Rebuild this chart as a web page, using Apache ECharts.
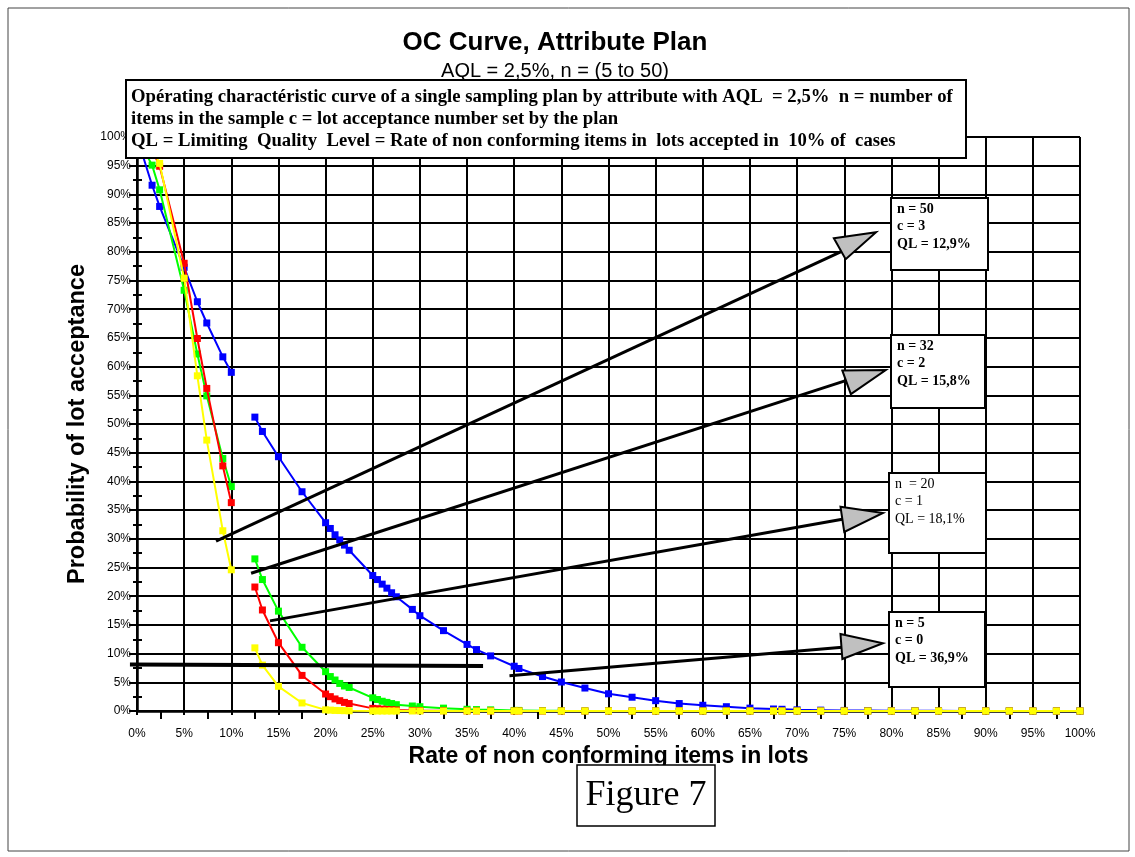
<!DOCTYPE html>
<html><head><meta charset="utf-8">
<script src="https://cdn.jsdelivr.net/npm/echarts/dist/echarts.min.js"></script>
<style>html,body{margin:0;padding:0;background:#fff}#c{width:1135px;height:857px}</style>
</head><body><div id="c"></div>
<script>
// ---- data (percent) ----
const xLow = [0, 1.6, 2.4, 5, 6.4, 7.4, 9.1, 10];
const blueLow   = [100, 91.6, 87.9, 77.3, 71.3, 67.6, 61.7, 59.0];
const greenLow  = [100, 95.1, 90.8, 73.3, 62.2, 54.9, 44.0, 39.1];
const redLow    = [100, 97.8, 94.9, 78.0, 64.9, 56.2, 42.7, 36.3];
const yellowLow = [100, 98.0, 95.4, 75.4, 58.4, 47.2, 31.4, 24.6];

const xHigh = [12.5, 13.3, 15, 17.5, 20, 20.5, 21, 21.5, 22, 22.5, 25, 25.5, 26, 26.5, 27, 27.5, 29.2, 30,
  32.5, 35, 36, 37.5, 40, 40.5, 43, 45, 47.5, 50, 52.5, 55, 57.5, 60, 62.5, 65, 67.5, 68.4, 70,
  72.5, 75, 77.5, 80, 82.5, 85, 87.5, 90, 92.5, 95, 97.5, 100];
const blueHigh = [51.2, 48.7, 44.3, 38.2, 32.8, 31.8, 30.7, 29.8, 28.9, 28.0, 23.6, 22.9, 22.1, 21.4, 20.6, 19.9, 17.7, 16.6,
  14.0, 11.6, 10.7, 9.6, 7.8, 7.4, 6.0, 5.05, 4.0, 3.0, 2.4, 1.8, 1.3, 1.0, 0.75, 0.5, 0.35, 0.3, 0.2,
  0.15, 0.1, 0.08, 0.05, 0.04, 0.03, 0.02, 0.01, 0.01, 0, 0, 0];
const greenHigh = [26.5, 22.9, 17.4, 11.1, 6.85, 6.0, 5.4, 4.8, 4.36, 4.1, 2.3, 2.0, 1.7, 1.5, 1.3, 1.1, 0.87, 0.75,
  0.5, 0.3, 0.25, 0.2, 0.1, 0.1, 0.05, 0.03, 0.02, 0.01, 0, 0, 0, 0, 0, 0, 0, 0, 0,
  0, 0, 0, 0, 0, 0, 0, 0, 0, 0, 0, 0];
const redHigh = [21.6, 17.6, 11.9, 6.2, 2.96, 2.5, 2.1, 1.8, 1.5, 1.3, 0.46, 0.4, 0.33, 0.27, 0.22, 0.18, 0.1, 0.08,
  0.04, 0.02, 0.01, 0.01, 0, 0, 0, 0, 0, 0, 0, 0, 0, 0, 0, 0, 0, 0, 0,
  0, 0, 0, 0, 0, 0, 0, 0, 0, 0, 0, 0];
const yellowHigh = [11.0, 8.0, 4.3, 1.4, 0.2, 0.15, 0.1, 0.08, 0.06, 0.04, 0.01, 0, 0, 0, 0, 0, 0, 0,
  0, 0, 0, 0, 0, 0, 0, 0, 0, 0, 0, 0, 0, 0, 0, 0, 0, 0, 0,
  0, 0, 0, 0, 0, 0, 0, 0, 0, 0, 0, 0];

const titleText = 'OC Curve, Attribute Plan';
const subText = 'AQL = 2,5%, n = (5 to 50)';
const xName = 'Rate of non conforming items in lots';
const yName = 'Probability of lot acceptance';
const noteLines = [
  'Opérating charactéristic curve of a single sampling plan by attribute with AQL  = 2,5%  n = number of',
  'items in the sample c = lot acceptance number set by the plan',
  'QL = Limiting  Quality  Level = Rate of non conforming items in  lots accepted in  10% of  cases'
];
const planLabels = [
  ['n = 50', 'c = 3', 'QL = 12,9%'],
  ['n = 32', 'c = 2', 'QL = 15,8%'],
  ['n  = 20', 'c = 1', 'QL = 18,1%'],
  ['n = 5', 'c = 0', 'QL = 36,9%']
];

// ---- chart ----
const SANS = 'Liberation Sans, Arial, sans-serif';
const SERIF = 'Liberation Serif, Times New Roman, serif';
const pairs = (xs, ys) => xs.map((x, i) => [x, ys[i]]);
function seg(name, color, xs, ys, z) {
  return {
    name, type: 'line', data: pairs(xs, ys), z,
    symbol: 'rect', symbolSize: 7, showSymbol: true,
    lineStyle: { color, width: 2 }, itemStyle: { color },
    animation: false, silent: true
  };
}
const chart = echarts.init(document.getElementById('c'));
chart.setOption({
  animation: false,
  backgroundColor: '#fff',
  title: [
    { text: titleText, left: 555, top: 30, textAlign: 'center', padding: 0,
      textStyle: { fontFamily: SANS, fontSize: 26, fontWeight: 'bold', color: '#000' } },
    { text: subText, left: 555, top: 61, textAlign: 'center', padding: 0,
      textStyle: { fontFamily: SANS, fontSize: 20, fontWeight: 'normal', color: '#000' } }
  ],
  grid: { left: 137, right: 55, top: 137, bottom: 146 },
  xAxis: [{
    type: 'value', min: 0, max: 100, interval: 5,
    name: xName, nameLocation: 'middle', nameGap: 33,
    nameTextStyle: { fontFamily: SANS, fontSize: 23, fontWeight: 'bold', color: '#000' },
    axisLine: { lineStyle: { color: '#000', width: 2.5 } },
    axisTick: { show: true, inside: false, length: 4, lineStyle: { color: '#000', width: 2 } },
    minorTick: { show: true, splitNumber: 2, length: 4, lineStyle: { color: '#000', width: 2 } },
    axisLabel: { formatter: '{value}%', fontFamily: SANS, fontSize: 12, color: '#000', margin: 17 },
    splitLine: { show: true, lineStyle: { color: '#000', width: 2 } }
  }, {
    type: 'value', min: 0, max: 100, interval: 5, position: 'bottom',
    axisLine: { show: false },
    axisTick: { show: false },
    minorTick: { show: true, splitNumber: 2, length: 8, lineStyle: { color: '#000', width: 2 } },
    axisLabel: { show: false }, splitLine: { show: false }
  }],
  yAxis: [{
    type: 'value', min: 0, max: 100, interval: 5,
    name: yName, nameLocation: 'middle', nameGap: 44,
    nameTextStyle: { fontFamily: SANS, fontSize: 23.5, fontWeight: 'bold', color: '#000' },
    axisLine: { show: true, lineStyle: { color: '#000', width: 2.5 } },
    axisTick: { show: true, inside: false, length: 8, lineStyle: { color: '#000', width: 2 } },
    minorTick: { show: true, splitNumber: 2, length: 4, lineStyle: { color: '#000', width: 2 } },
    axisLabel: { formatter: '{value}%', fontFamily: SANS, fontSize: 12, color: '#000', margin: 6 },
    splitLine: { show: true, lineStyle: { color: '#000', width: 2 } }
  }, {
    type: 'value', min: 0, max: 100, interval: 5, position: 'left',
    axisLine: { show: false },
    axisTick: { show: false, inside: true },
    minorTick: { show: true, splitNumber: 2, length: 5, lineStyle: { color: '#000', width: 2 } },
    axisLabel: { show: false }, splitLine: { show: false }
  }],
  series: [
    seg('n=50 c=3', '#0000FF', xLow, blueLow, 2),
    seg('n=50 c=3 ', '#0000FF', xHigh, blueHigh, 2),
    seg('n=20 c=1', '#00FF00', xLow, greenLow, 3),
    seg('n=20 c=1 ', '#00FF00', xHigh, greenHigh, 3),
    seg('n=32 c=2', '#FF0000', xLow, redLow, 4),
    seg('n=32 c=2 ', '#FF0000', xHigh, redHigh, 4),
    seg('n=5 c=0', '#FFFF00', xLow, yellowLow, 5),
    seg('n=5 c=0 ', '#FFFF00', xHigh, yellowHigh, 5)
  ]
});

// ---- annotations (in data coordinates, converted to pixels) ----
const toPx = p => chart.convertToPixel({ gridIndex: 0 }, p);
const arrows = [
  { tail: [8.38, 29.6], head: [74.9, 80.2], tri: [[73.9, 82.35], [78.37, 83.4], [75.15, 78.7]] },
  { tail: [12.1, 24.0], head: [75.4, 57.7], tri: [[74.8, 59.3], [79.4, 59.4], [75.7, 55.2]] },
  { tail: [14.1, 15.7], head: [74.8, 33.4], tri: [[74.6, 35.6], [79.1, 34.5], [75.0, 31.2]] },
  { tail: [39.5, 6.15], head: [74.8, 11.1], tri: [[74.6, 13.4], [79.1, 11.8], [74.8, 9.06]] }
];
const limitLine = [[-0.75, 8.1], [36.7, 7.85]];

const g = [];
g.push({ type: 'rect', shape: { x: 8, y: 8, width: 1121, height: 843 }, style: { fill: 'none', stroke: '#444', lineWidth: 1 }, z: 1 });
const l0 = toPx(limitLine[0]), l1 = toPx(limitLine[1]);
g.push({ type: 'line', shape: { x1: l0[0], y1: l0[1], x2: l1[0], y2: l1[1] }, style: { stroke: '#000', lineWidth: 4 }, z: 50 });
arrows.forEach(a => {
  const t = toPx(a.tail), h = toPx(a.head);
  g.push({ type: 'line', shape: { x1: t[0], y1: t[1], x2: h[0], y2: h[1] }, style: { stroke: '#000', lineWidth: 3 }, z: 50 });
  g.push({ type: 'polygon', shape: { points: a.tri.map(toPx) }, style: { fill: '#C0C0C0', stroke: '#000', lineWidth: 2 }, z: 51 });
});
// main note box
g.push({ type: 'rect', shape: { x: 126, y: 80, width: 840, height: 78 }, style: { fill: '#fff', stroke: '#000', lineWidth: 2 }, z: 60 });
noteLines.forEach((s, i) => {
  g.push({ type: 'text', x: 131, y: 97 + i * 22, style: { text: s, fill: '#000', font: 'bold 18.7px ' + SERIF, textVerticalAlign: 'middle', textAlign: 'left' }, z: 61 });
});
// plan boxes
const boxes = [
  { x: 891, y: 198, w: 97, h: 72, bold: true },
  { x: 891, y: 335, w: 94, h: 73, bold: true },
  { x: 889, y: 473, w: 97, h: 80, bold: false },
  { x: 889, y: 612, w: 96, h: 75, bold: true }
];
boxes.forEach((b, i) => {
  g.push({ type: 'rect', shape: { x: b.x, y: b.y, width: b.w, height: b.h }, style: { fill: '#fff', stroke: '#000', lineWidth: 2 }, z: 60 });
  planLabels[i].forEach((s, j) => {
    g.push({ type: 'text', x: b.x + 6, y: b.y + 11 + j * 17.5, style: { text: s, fill: '#000', font: (b.bold ? 'bold ' : '') + '14px ' + SERIF, textVerticalAlign: 'middle' }, z: 61 });
  });
});
// Figure 7 box
g.push({ type: 'rect', shape: { x: 577, y: 765, width: 138, height: 61 }, style: { fill: '#fff', stroke: '#000', lineWidth: 1.5 }, z: 60 });
g.push({ type: 'text', x: 646, y: 796, style: { text: 'Figure 7', fill: '#000', font: '36px ' + SERIF, textAlign: 'center', textVerticalAlign: 'middle' }, z: 61 });

chart.setOption({ graphic: g });
</script>
</body></html>
